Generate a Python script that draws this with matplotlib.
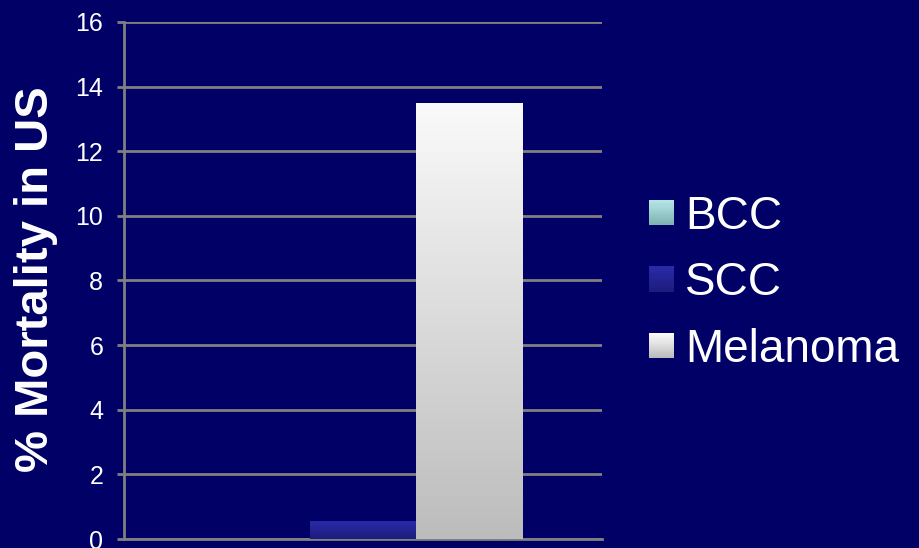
import numpy as np
import matplotlib
matplotlib.use("Agg")
from matplotlib import pyplot as plt
from matplotlib.patches import Patch
from matplotlib.legend_handler import HandlerPatch
from matplotlib.colors import LinearSegmentedColormap

# mortality by skin cancer type (%)
cancer_types = ["BCC", "SCC", "Melanoma"]
mortality = [0.0, 0.55, 13.5]

# gradient colours for each bar: (top, bottom)
bar_grads = [("#b4e4e4", "#7fb2b2"), ("#2a2aa8", "#1c1c7c"), ("#fafafa", "#bcbcbc")]

yticks = np.arange(0, 17, 2)

BG = "#000066"
GRID = "#808080"

plt.rcParams['font.family'] = ['Liberation Sans', 'DejaVu Sans']

fig = plt.figure(figsize=(9.2, 5.48), dpi=100, facecolor=BG)
ax = fig.add_axes([0.1348, 0.0164, 0.5196, 0.9435])
ax.set_facecolor(BG)

width = 1.0
xs = np.arange(len(cancer_types)) - 1
bars = ax.bar(xs, mortality, width=width, color="none", edgecolor="none", zorder=3)

# paint each bar with a vertical gradient clipped to the bar rectangle
for b, (top, bot) in zip(bars, bar_grads):
    h = b.get_height()
    if h <= 0:
        continue
    cmap = LinearSegmentedColormap.from_list("g", [bot, top])
    grad = np.linspace(0, 1, 256).reshape(-1, 1)
    x0 = b.get_x()
    im = ax.imshow(grad, cmap=cmap, aspect="auto", origin="lower",
                   extent=[x0, x0 + b.get_width(), 0, h], zorder=3)
    im.set_clip_path(b)

ax.set_xlim(-2.24, 2.24)
ax.set_ylim(0, 16)
ax.set_yticks(yticks)
ax.set_yticklabels([str(t) for t in yticks], color="white", fontsize=18)
ax.set_xticks([])
ax.yaxis.grid(True, color=GRID, linewidth=2, zorder=0)
ax.set_axisbelow(True)
ax.tick_params(axis="y", length=5, width=2, color=GRID, pad=10)
for side in ["top", "right"]:
    ax.spines[side].set_visible(False)
ax.spines["left"].set_color(GRID)
ax.spines["left"].set_linewidth(2)
ax.spines["bottom"].set_color(GRID)
ax.spines["bottom"].set_linewidth(2)

fig.text(0.039, 0.491, "% Mortality in US", rotation=90, color="white",
         fontsize=34, fontweight="bold", ha="center", va="center")


class GradHandler(HandlerPatch):
    def __init__(self, top, bot):
        super().__init__()
        self.top, self.bot = top, bot

    def create_artists(self, legend, orig_handle, xdescent, ydescent, width, height, fontsize, trans):
        size = 18
        cmap = LinearSegmentedColormap.from_list("g", [self.bot, self.top])
        arts = []
        n = 12
        for i in range(n):
            p = matplotlib.patches.Rectangle(
                (width - size, -ydescent + (height - size) / 2 + i * size / n),
                size, size / n + 0.3, facecolor=cmap(i / (n - 1)), edgecolor="none",
                transform=trans)
            arts.append(p)
        return arts


handles = [Patch(label=c) for c in cancer_types]
handler_map = {h: GradHandler(t, bt) for h, (t, bt) in zip(handles, bar_grads)}
leg = fig.legend(handles=handles, handler_map=handler_map, loc="center left",
                 bbox_to_anchor=(0.660, 0.483), frameon=False, fontsize=33,
                 labelcolor="white", handlelength=0.55, handletextpad=0.25,
                 labelspacing=0.49)

fig.savefig("out.png", dpi=100, facecolor=BG)
